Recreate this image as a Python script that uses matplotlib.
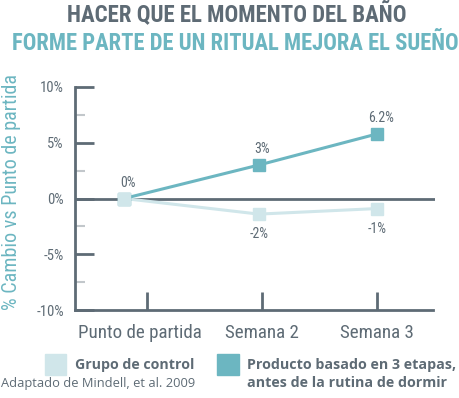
import numpy as np
import matplotlib
matplotlib.use('Agg')
import matplotlib.pyplot as plt
import matplotlib.transforms as mtransforms
from matplotlib.patches import Rectangle

# data
categories = ['Punto de partida', 'Semana 2', 'Semana 3']
control = [0, -1.4, -0.9]
producto = [0, 3.0, 5.8]
control_lbl = ['', '-2%', '-1%']
producto_lbl = ['0%', '3%', '6.2%']
yticks = [-10, -5, 0, 5, 10]
ytick_lbl = ['-10%', '-5%', '0%', '5%', '10%']

# styles
dark = '#5e6b75'
teal = '#6cb6c1'
light = '#d0e6ea'
cond = ['Liberation Sans Narrow', 'Roboto Condensed', 'Roboto', 'DejaVu Sans']
plain = ['Open Sans', 'Noto Sans', 'DejaVu Sans']
plt.rcParams['font.family'] = cond

fig = plt.figure(figsize=(4.6, 3.98), dpi=100)
ax = fig.add_axes([75/460, 1-310/398, 360/460, 223/398])

pt_shift = [-0.2, -0.03, 0]   # markers sit a bit off the tick marks in the original
xs = np.arange(len(categories)) + np.array(pt_shift)

ax.axhline(0, color=dark, lw=2, zorder=1)
ax.plot(xs, control, color=light, lw=2.2, marker='s', ms=8, zorder=3)
ax.plot(xs, producto, color=teal, lw=2.2, marker='s', ms=8, zorder=4)
ax.plot(xs[0], 0, marker='s', color=light, ms=8, zorder=5)

for x, v, t in zip(xs, producto, producto_lbl):
    ax.text(x + 0.03, v + 0.8, t, ha='center', va='bottom', fontsize=10, color=dark)
for x, v, t in zip(xs, control, control_lbl):
    ax.text(x, v - 1.2, t, ha='center', va='top', fontsize=10, color=dark)

ax.set_xlim(-0.626, 2.5)
ax.set_ylim(-10, 10)
for s in ['top', 'right']:
    ax.spines[s].set_visible(False)
for s in ['left', 'bottom']:
    ax.spines[s].set_color(dark)
    ax.spines[s].set_linewidth(2)
ax.spines['bottom'].set_bounds(-0.626, 2.48)

ax.set_yticks(yticks)
ax.set_yticklabels(ytick_lbl)
ax.set_yticks([-7.5, -2.5, 2.5, 7.5], minor=True)
ax.tick_params(axis='y', which='major', direction='in', length=14, width=2, color=dark,
               labelsize=10.5, labelcolor=dark, pad=8)
ax.tick_params(axis='y', which='minor', direction='in', length=7, width=1.5, color='#c2c7cb')
ax.set_xticks(range(len(categories)))
ax.set_xticklabels(categories)
ax.tick_params(axis='x', direction='in', length=13, width=2, color=dark,
               labelsize=13.7, labelcolor=dark, pad=10)
# first category label sits left of its tick
lab0 = ax.get_xticklabels()[0]
lab0.set_transform(lab0.get_transform() + mtransforms.ScaledTranslation(-7/100, 0, fig.dpi_scale_trans))

fig.text(12/460, 1-192/398, '% Cambio vs Punto de partida', rotation=90, ha='center', va='center',
         fontsize=14.5, color=teal)

fig.text(237/460, 1-14/398, 'HACER QUE EL MOMENTO DEL BAÑO', ha='center', va='center',
         fontsize=16.5, fontweight='bold', color=dark)
fig.text(235/460, 1-43/398, 'FORME PARTE DE UN RITUAL MEJORA EL SUEÑO', ha='center', va='center',
         fontsize=16.3, fontweight='bold', color=teal)

# legend
fig.patches.append(Rectangle((45/460, 1-375/398), 21/460, 21/398, transform=fig.transFigure,
                             color=light, zorder=3))
fig.patches.append(Rectangle((217/460, 1-375/398), 22/460, 21/398, transform=fig.transFigure,
                             color=teal, zorder=3))
fig.text(75/460, 1-365/398, 'Grupo de control', ha='left', va='center', fontsize=10.2,
         fontweight='bold', color=dark, family=plain)
fig.text(247/460, 1-365/398, 'Producto basado en 3 etapas,', ha='left', va='center', fontsize=10.3,
         fontweight='bold', color=dark, family=plain)
fig.text(247/460, 1-383/398, 'antes de la rutina de dormir', ha='left', va='center', fontsize=10.3,
         fontweight='bold', color=dark, family=plain)
fig.text(1/460, 1-383/398, 'Adaptado de Mindell, et al. 2009', ha='left', va='center', fontsize=9.3,
         color=dark, family=plain)

fig.savefig('out.png', dpi=100)
